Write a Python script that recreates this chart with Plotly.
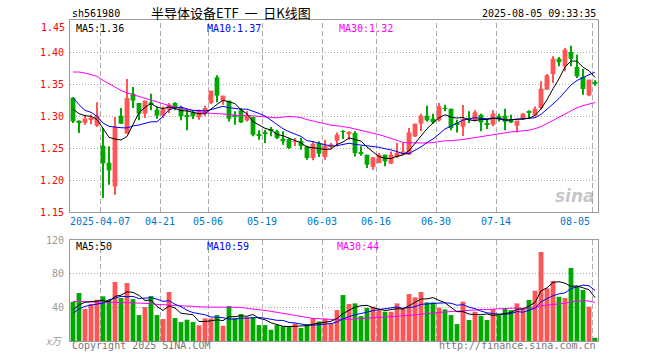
import plotly.graph_objects as go
import pandas as pd

# ---------------- data ----------------
holidays = ["2025-04-04", "2025-05-01", "2025-05-02", "2025-05-05", "2025-06-02"]
dates = [d.strftime("%Y-%m-%d") for d in pd.bdate_range("2025-03-28", "2025-08-05")
         if d.strftime("%Y-%m-%d") not in holidays]

opens = [1.3286, 1.2927, 1.2895, 1.2950, 1.2849, 1.2536, 1.2270, 1.1900, 1.3005, 1.2724,
         1.3349, 1.3203, 1.3036, 1.3213, 1.3099, 1.3005, 1.3099, 1.3203, 1.3135, 1.2995,
         1.3057, 1.2979, 1.3057, 1.3203, 1.3604, 1.3239, 1.3239, 1.3005, 1.3088, 1.2932,
         1.2984, 1.2698, 1.2740, 1.2776, 1.2760, 1.2646, 1.2640, 1.2595, 1.2610, 1.2526,
         1.2343, 1.2578, 1.2359, 1.2526, 1.2614, 1.2755, 1.2734, 1.2734, 1.2425, 1.2395,
         1.2203, 1.2265, 1.2395, 1.2255, 1.2359, 1.2395, 1.2395, 1.2682, 1.2880, 1.3005,
         1.2958, 1.2932, 1.3115, 1.3114, 1.2865, 1.2833, 1.2958, 1.2932, 1.3020, 1.2870,
         1.2864, 1.2985, 1.3005, 1.2942, 1.2849, 1.2953, 1.3060, 1.3005, 1.3125, 1.3411,
         1.3656, 1.3896, 1.3776, 1.4000, 1.3766, 1.3609, 1.3323, 1.3518]
highs = [1.3290, 1.2930, 1.3020, 1.3020, 1.3213, 1.2812, 1.2526, 1.2984, 1.3125, 1.3578,
         1.3453, 1.3203, 1.3239, 1.3349, 1.3150, 1.3150, 1.3203, 1.3213, 1.3161, 1.3100,
         1.3099, 1.3099, 1.3161, 1.3396, 1.3635, 1.3318, 1.3239, 1.3073, 1.3125, 1.3073,
         1.2984, 1.2776, 1.2786, 1.2828, 1.2786, 1.2760, 1.2656, 1.2656, 1.2656, 1.2536,
         1.2604, 1.2604, 1.2630, 1.2578, 1.2744, 1.2776, 1.2760, 1.2760, 1.2526, 1.2395,
         1.2354, 1.2421, 1.2395, 1.2447, 1.2578, 1.2578, 1.2812, 1.2880, 1.3036, 1.3161,
         1.3036, 1.3203, 1.3177, 1.3114, 1.2942, 1.3172, 1.3073, 1.3088, 1.3036, 1.2942,
         1.3088, 1.3036, 1.3114, 1.3020, 1.2927, 1.3047, 1.3088, 1.3150, 1.3542, 1.3656,
         1.3932, 1.3922, 1.4063, 1.4099, 1.3958, 1.3734, 1.3568, 1.3557]
lows = [1.2890, 1.2734, 1.2864, 1.2870, 1.2828, 1.1718, 1.1926, 1.1770, 1.2880, 1.2724,
        1.3125, 1.2932, 1.2968, 1.3088, 1.2958, 1.2968, 1.3047, 1.3088, 1.2932, 1.2776,
        1.2953, 1.2942, 1.3005, 1.3187, 1.3213, 1.3177, 1.2916, 1.2864, 1.2890, 1.2916,
        1.2682, 1.2630, 1.2578, 1.2682, 1.2640, 1.2550, 1.2484, 1.2526, 1.2474, 1.2317,
        1.2307, 1.2359, 1.2317, 1.2480, 1.2526, 1.2640, 1.2630, 1.2369, 1.2380, 1.2187,
        1.2161, 1.2260, 1.2213, 1.2250, 1.2345, 1.2395, 1.2395, 1.2672, 1.2760, 1.2916,
        1.2880, 1.2916, 1.3073, 1.2776, 1.2744, 1.2688, 1.2890, 1.2916, 1.2760, 1.2797,
        1.2838, 1.2916, 1.2776, 1.2890, 1.2744, 1.2942, 1.2968, 1.3005, 1.3099, 1.3411,
        1.3515, 1.3776, 1.3698, 1.3776, 1.3594, 1.3333, 1.3307, 1.3474]
closes = [1.2916, 1.2890, 1.2958, 1.2960, 1.3005, 1.2260, 1.2150, 1.2828, 1.2880, 1.3281,
          1.3239, 1.3036, 1.3239, 1.3177, 1.3005, 1.3114, 1.3177, 1.3125, 1.2995, 1.2990,
          1.2995, 1.3073, 1.3125, 1.3396, 1.3318, 1.3318, 1.2958, 1.2985, 1.2901, 1.3005,
          1.2708, 1.2692, 1.2734, 1.2770, 1.2656, 1.2604, 1.2500, 1.2604, 1.2531, 1.2343,
          1.2567, 1.2411, 1.2536, 1.2557, 1.2708, 1.2750, 1.2740, 1.2421, 1.2421, 1.2239,
          1.2354, 1.2395, 1.2291, 1.2395, 1.2421, 1.2447, 1.2744, 1.2880, 1.3005, 1.2932,
          1.2901, 1.3151, 1.3110, 1.2812, 1.2864, 1.2953, 1.2953, 1.3057, 1.2900, 1.2864,
          1.3036, 1.2980, 1.2911, 1.2900, 1.2927, 1.3036, 1.3057, 1.3114, 1.3427, 1.3635,
          1.3896, 1.3839, 1.4036, 1.3891, 1.3620, 1.3422, 1.3568, 1.3515]
volumes = [46.3, 57.0, 38.0, 43.9, 49.0, 53.1, 49.0, 70.1, 51.1, 68.9,
           49.8, 30.8, 40.3, 53.4, 30.8, 26.1, 58.2, 27.3, 22.5, 25.3,
           22.5, 18.6, 26.9, 26.9, 30.8, 18.1, 41.5, 27.3, 32.0, 28.1,
           28.5, 18.9, 18.9, 13.4, 18.9, 17.3, 17.3, 20.9, 15.4, 20.1,
           26.5, 23.3, 26.5, 20.9, 36.8, 54.6, 43.9, 44.7, 29.6, 39.2,
           40.7, 36.8, 34.8, 34.8, 44.7, 38.8, 55.8, 51.9, 58.2, 45.9,
           45.9, 39.5, 37.6, 30.8, 20.1, 46.7, 24.9, 34.8, 29.6, 24.9,
           37.6, 30.8, 38.8, 36.8, 44.7, 38.8, 48.7, 59.8, 105.8, 62.6,
           71.3, 52.6, 51.1, 86.8, 65.4, 60.6, 40.7, 3.8]

# moving-average values before the window is complete
ma5_prefix = [1.3109, 1.3036, 1.3005, 1.2995]
ma10_prefix = [1.3286, 1.3177, 1.3088, 1.3057, 1.2995, 1.2890, 1.2838, 1.2823, 1.2817]
ma30_prefix = [1.3687, 1.3687, 1.3672, 1.3646, 1.3620, 1.3557, 1.3500, 1.3453, 1.3400, 1.3360,
               1.3333, 1.3307, 1.3281, 1.3245, 1.3219, 1.3192, 1.3161, 1.3135, 1.3114, 1.3099,
               1.3088, 1.3073, 1.3047, 1.3036, 1.3036, 1.3031, 1.3020, 1.3015, 1.3005]
vma5_prefix = [37.2, 42.8, 46.0, 46.7]
vma10_prefix = [33.2, 38.0, 41.2, 42.8, 43.9, 45.0, 49.0, 51.0, 53.1]
vma30_prefix = [47.0, 47.0, 46.8, 46.5, 46.3, 46.0, 46.0, 45.8, 45.5, 45.5,
                45.3, 45.0, 45.0, 44.5, 43.5, 43.0, 42.5, 42.0, 41.5, 41.0,
                40.8, 40.5, 40.3, 40.3, 40.3, 40.0, 40.0, 40.0, 40.0]

tick_dates = ["2025-04-07", "2025-04-21", "2025-05-06", "2025-05-19", "2025-06-03",
              "2025-06-16", "2025-06-30", "2025-07-14", "2025-08-05"]
tick_text = ["2025-04-07", "04-21", "05-06", "05-19", "06-03", "06-16", "06-30", "07-14", "08-05"]
price_ticks = [1.15, 1.20, 1.25, 1.30, 1.35, 1.40]
vol_ticks = [40, 80, 120]

title_code = "sh561980"
title_name = "半导体设备ETF\u00a0\u00a0一\u00a0\u00a0日K线图"
timestamp = "2025-08-05 09:33:35"
price_legend = ["MA5:1.36", "MA10:1.37", "MA30:1.32"]
vol_legend = ["MA5:50", "MA10:59", "MA30:44"]


def moving(values, n, prefix):
    s = pd.Series(values).rolling(n).mean().tolist()
    return list(prefix) + s[len(prefix):]


ma5 = moving(closes, 5, ma5_prefix)
ma10 = moving(closes, 10, ma10_prefix)
ma30 = moving(closes, 30, ma30_prefix)
vma5 = moving(volumes, 5, vma5_prefix)
vma10 = moving(volumes, 10, vma10_prefix)
vma30 = moving(volumes, 30, vma30_prefix)

# ---------------- style ----------------
RED = "#ff5555"
GREEN = "#00a800"
BORDER = "#999999"
GRID = "#aaaaaa"
MONO = "DejaVu Sans Mono"
W, H = 660, 360
L, R, T, B = 70, 598, 20, 341


def px(x):
    return (x - L) / (R - L)


def py(y):
    return (B - y) / (B - T)


n = len(dates)
xs = list(range(n))
cols = [RED if c >= o else GREEN for o, c in zip(opens, closes)]
body_base = [min(o, c) for o, c in zip(opens, closes)]
body_h = [max(abs(c - o), 0.0012) for o, c in zip(opens, closes)]
wick_h = [h - l for h, l in zip(highs, lows)]

fig = go.Figure()
fig.add_trace(go.Bar(x=xs, y=wick_h, base=lows, width=0.17,
                     marker=dict(color=cols, line_width=0), xaxis="x", yaxis="y"))
fig.add_trace(go.Bar(x=xs, y=body_h, base=body_base, width=0.8,
                     marker=dict(color=cols, line_width=0), xaxis="x", yaxis="y"))
for vals, c in ((ma30, "#ff00ff"), (ma10, "#0000ff"), (ma5, "#000000")):
    fig.add_trace(go.Scatter(x=xs, y=vals, mode="lines", line=dict(color=c, width=1),
                             xaxis="x", yaxis="y"))

fig.add_trace(go.Bar(x=xs, y=volumes, width=0.8,
                     marker=dict(color=cols, line_width=0), xaxis="x2", yaxis="y2"))
for vals, c in ((vma30, "#ff00ff"), (vma10, "#0000ff"), (vma5, "#000000")):
    fig.add_trace(go.Scatter(x=xs, y=vals, mode="lines", line=dict(color=c, width=1),
                             xaxis="x2", yaxis="y2"))

main_dom = [py(212), 1.0]
vol_dom = [0.0, py(240)]
xr = [-0.5, n - 0.5]

axis_common = dict(showline=True, mirror=True, linecolor=BORDER, linewidth=1,
                   zeroline=False, ticks="", fixedrange=True)

shapes = []
annotations = []
for d, t in zip(tick_dates, tick_text):
    i = dates.index(d)
    gx = i - 0.42
    for yr in ("y domain", "y2 domain"):
        shapes.append(dict(type="line", xref="x", yref=yr, x0=gx, x1=gx, y0=0, y1=1,
                           line=dict(color=GRID, width=1, dash="5px,3px"), layer="below"))
    last = (t == tick_text[-1])
    annotations.append(dict(x=gx, xref="x", y=py(221.5), yref="paper", text=t,
                            showarrow=False, xanchor="right" if last else "center",
                            yanchor="middle",
                            font=dict(family=MONO, size=10, color="#0077cc")))


def label(x, y, text, color, size=10, anchor="left", family=MONO, **kw):
    annotations.append(dict(x=px(x), y=py(y), xref="paper", yref="paper", text=text,
                            showarrow=False, xanchor=anchor, yanchor="middle",
                            font=dict(family=family, size=size, color=color, **kw)))


label(70, 13, title_code, "#000000")
label(231, 12.5, title_name, "#000000", size=13, anchor="center", family="Noto Sans CJK SC")
label(598, 13, timestamp, "#000000", anchor="right")
label(67, 27, "1.45", "#ff0000", anchor="right")
label(74, 28, price_legend[0], "#000000")
label(205, 28, price_legend[1], "#0000ff")
label(337, 28, price_legend[2], "#ff00ff")
label(74, 246, vol_legend[0], "#000000")
label(205, 246, vol_legend[1], "#0000ff")
label(335, 246, vol_legend[2], "#ff00ff")
label(65, 340, "x万", "#999999", size=10, anchor="right", family="Noto Sans CJK SC", style="italic")
label(70, 346, "Copyright 2025 SINA.COM", "#777777")
label(598, 346, "http://finance.sina.com.cn", "#777777", anchor="right")
label(597, 196, "sina", "rgba(150,150,150,0.55)", size=17, anchor="right",
      family="DejaVu Sans", style="italic", weight="bold")

fig.update_layout(
    width=W, height=H,
    margin=dict(l=L, r=W - R, t=T, b=H - B, pad=0),
    paper_bgcolor="white", plot_bgcolor="white",
    barmode="overlay", showlegend=False, hovermode=False,
    xaxis=dict(domain=[0, 1], range=xr, anchor="y", showticklabels=False,
               showgrid=False, **axis_common),
    xaxis2=dict(domain=[0, 1], range=xr, anchor="y2", showticklabels=False,
                showgrid=False, **axis_common),
    yaxis=dict(domain=main_dom, range=[1.15, 1.45], tickvals=price_ticks,
               ticktext=[f"{v:.2f}" for v in price_ticks],
               tickfont=dict(family=MONO, size=10, color="#ff0000"),
               showgrid=True, gridcolor=GRID, griddash="1px,2px", gridwidth=1,
               ticklabelstandoff=3, **axis_common),
    yaxis2=dict(domain=vol_dom, range=[0, 120], tickvals=vol_ticks,
                ticktext=[str(v) for v in vol_ticks],
                tickfont=dict(family=MONO, size=10, color="#999999"),
                showgrid=True, gridcolor=GRID, griddash="1px,2px", gridwidth=1,
                ticklabelstandoff=3, **axis_common),
    shapes=shapes,
    annotations=annotations,
)

fig.write_html("out.html", config={"displayModeBar": False},
               post_script="document.body.style.margin='0';")
